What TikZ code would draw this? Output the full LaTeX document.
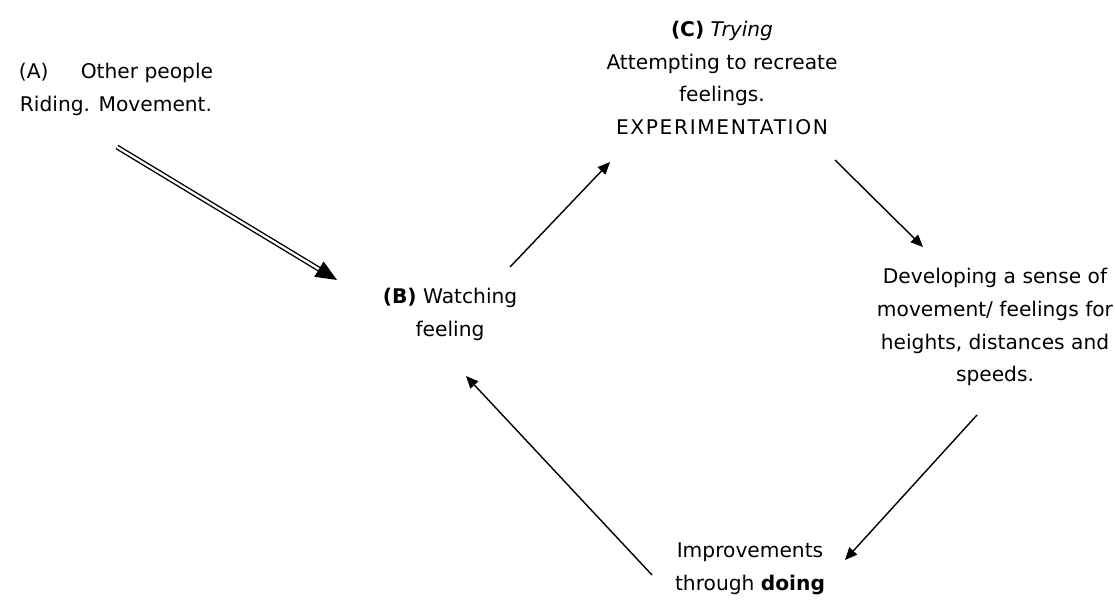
\documentclass[tikz,border=0pt]{standalone}
\usepackage{fontspec}
\setmainfont{DejaVu Sans}
\usetikzlibrary{arrows.meta}

\begin{document}
\begin{tikzpicture}[x=0.02cm, y=-0.02cm,
    txt/.style={align=center, inner sep=0pt, font=\fontsize{11.5}{18.7}\selectfont},
    arr/.style={line width=0.8pt, -{Triangle[length=7pt, width=6pt]}},
    dblarr/.style={double, double distance=1.3pt, line width=0.8pt, -{Triangle[length=12pt, width=10pt]}}]
  \useasboundingbox (0,0) rectangle (1115,602);
  % stages of the cycle
  \node [txt] (a) at (116,89) {(A)\hspace{1.6em}Other people\\ Riding. Movement.};
  \node [txt] (c) at (722,78) {\textbf{(C)} \textit{Trying}\\ Attempting to recreate\\ feelings.\\ {\addfontfeature{LetterSpace=8}EXPERIMENTATION}};
  \node [txt] (b) at (450,314) {\textbf{(B)} Watching\\ feeling};
  \node [txt] (d) at (995,327) {Developing a sense of\\ movement/ feelings for\\ heights, distances and\\ speeds.};
  \node [txt] (e) at (750,569) {Improvements\\ through \textbf{doing}};
  % arrow ends
  \coordinate (a-out) at (117,147);
  \coordinate (b-in) at (337,280);
  \coordinate (b-out) at (510,267);
  \coordinate (c-in) at (610,162);
  \coordinate (c-out) at (835,160);
  \coordinate (d-in) at (923,247);
  \coordinate (d-out) at (977,415);
  \coordinate (e-in) at (845,560);
  \coordinate (e-out) at (652,575);
  \coordinate (b-in2) at (466,376);
  \draw [dblarr] (a-out) -- (b-in);
  \draw [arr] (b-out) -- (c-in);
  \draw [arr] (c-out) -- (d-in);
  \draw [arr] (d-out) -- (e-in);
  \draw [arr] (e-out) -- (b-in2);
\end{tikzpicture}
\end{document}
